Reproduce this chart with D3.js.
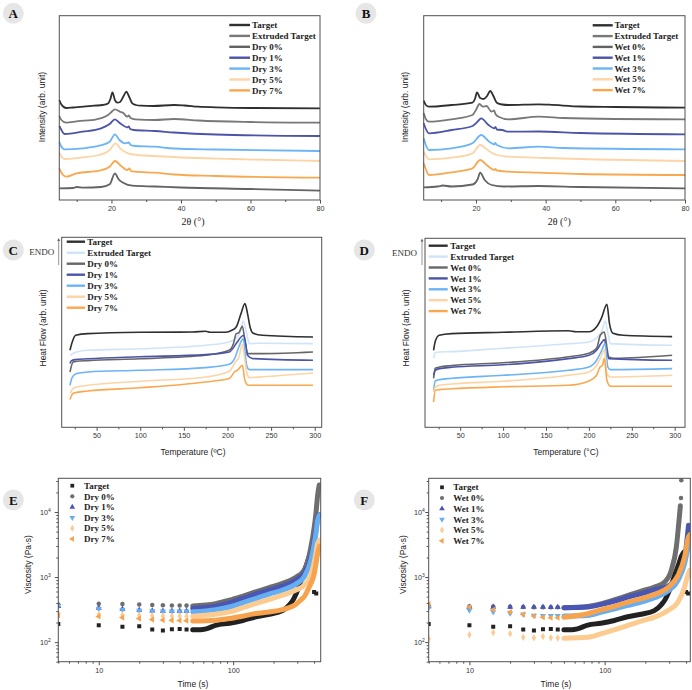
<!DOCTYPE html>
<html>
<head>
<meta charset="utf-8">
<script src="https://cdn.jsdelivr.net/npm/d3@7"></script>
<style>
  body { margin: 0; background: #fff; }
  svg { display: block; }
</style>
</head>
<body>
<svg id="fig" width="692" height="690"></svg>
<script>
// ---------- data ----------

// XRD, panels A and B  [2theta, intensity (arb.)]
const xrdNamesDry = ["Target", "Extruded Target", "Dry 0%", "Dry 1%", "Dry 3%", "Dry 5%", "Dry 7%"];
const xrdNamesWet = ["Target", "Extruded Target", "Wet 0%", "Wet 1%", "Wet 3%", "Wet 5%", "Wet 7%"];
const xrdMajor = [20, 40, 60, 80];
const xrdMinor = [10, 30, 50, 70];

const xrdTargetA = [[5,100],[5.6,95.5],[7,92],[9,92.5],[12,93.3],[15,94.3],[17.5,95],[19,96.5],[19.7,101],[20.3,107.7],[21,100],[21.7,97.3],[22.5,98],[23.5,104],[24.3,108.3],[25,104],[26,96.7],[27,95],[28.5,94.3],[32,94],[38,95],[41,94.5],[45,93.3],[50,92.7],[60,92],[80,91.7]];
const xrdExtrudedA = [[5,84],[5.6,80],[7,77.3],[10,78.7],[15.7,80.7],[19,85],[20,88],[21,90.7],[22.5,88.3],[23.5,86.7],[24.5,83.3],[25,84.5],[25.5,82],[26.8,80.7],[32.5,80],[38,81],[45,79.5],[60,78],[80,77.3]];
const xrdDry0A = [[5,11.7],[9,12],[10,13],[12,12.3],[17,13],[19.5,15.7],[21,26.7],[22,21],[23.5,17],[26,14.3],[32.5,13.5],[40,12.5],[60,11],[80,9.3]];
const xrdDry1A = [[5,74],[5.5,70.7],[6.5,66],[11.7,68.3],[17,71.7],[19.5,76],[21,80.7],[22.5,76.7],[24.5,72.7],[25,73.5],[25.4,71],[26.5,70],[32.5,69],[38,67.5],[50,65.5],[80,64]];
const xrdDry3A = [[5,58],[5.5,54],[6.5,50.7],[11.7,51.7],[16.5,54.3],[19.5,58.3],[21,65.7],[22.3,60],[24,56.7],[25,57.5],[25.5,55],[26.8,54],[32.5,53.3],[38,51.5],[50,50.5],[80,49]];
const xrdDry5A = [[5,47.3],[5.5,44],[6.5,41],[11.7,42.7],[16.5,45],[19.5,50],[21.2,56.7],[22.5,51.7],[24.8,46.7],[27.5,45],[32.5,44],[40,42.5],[55,41],[80,39]];
const xrdDry7A = [[5,31.7],[5.5,28],[7,23.3],[10,26.7],[16.5,29.3],[19.5,33.3],[21,39],[22.8,34],[24.5,30],[25.2,31.5],[25.6,29],[26.8,28.3],[32.5,27.3],[38,25.5],[50,24],[80,22.3]];

const xrdTargetB = [[5,99.3],[5.6,95],[6.5,93.3],[13,95],[19,97.3],[19.7,101],[20.3,107.7],[21.2,102],[22.2,101],[23.2,104],[24.1,109],[25,104],[26,97.3],[27.5,95.5],[29.4,95],[38,95.7],[41,95.3],[50,93.5],[60,93],[80,92.3]];
const xrdExtrudedB = [[5,87],[5.6,81],[6.5,78.3],[13,80.7],[19,85],[20,90],[21,96],[22,93.3],[23,94],[24.5,88.3],[25.2,89.5],[25.6,86],[26.5,83.3],[29.4,80.7],[38,83.3],[45,82],[60,81],[80,80.7]];
const xrdWet0B = [[5,12.7],[9,13.5],[10.5,14.5],[13,13.5],[19,15.5],[20.5,21],[21.2,27.3],[22.5,20],[24.5,15],[28,13.5],[38,14],[50,13],[80,11.7]];
const xrdWet1B = [[5,76.7],[5.5,72],[6.5,66.7],[13,70],[19,74],[20.5,78.5],[21.5,81.7],[23.6,75],[25.3,71.7],[25.6,73],[26,70.5],[27.5,70],[29.4,68.3],[38,68.5],[50,67],[80,65.7]];
const xrdWet3B = [[5,61.7],[5.5,56],[6.5,50],[13,51.7],[19,56.7],[21.5,65],[23.8,58.3],[25.3,55.5],[25.5,57],[26,55],[29.4,51.7],[38,53.3],[45,52],[80,50.7]];
const xrdWet5B = [[5,48.3],[5.5,45],[6.5,40.7],[13,42.3],[19,46.7],[21.2,55],[23.6,49.3],[26,45],[29.4,43.3],[40,42],[55,40.5],[80,39]];
const xrdWet7B = [[5,36.7],[5.5,32],[6.5,25],[13,27.7],[19,31.7],[21.2,40],[23.4,34],[25.3,30],[25.6,31],[26,29.5],[29.4,28.3],[38,27.3],[50,26],[80,25]];

// DSC, panels C and D  [temperature degC, heat flow (arb.)]
const dscMajor = [50, 100, 150, 200, 250, 300];
const dscMinor = [25, 75, 125, 175, 225, 275];

const dscTargetC = [[19.5,77],[22,85],[26,92],[40,93.7],[100,95],[160,95.3],[175,96],[180,95],[198,95],[205,97],[210,100.3],[215.5,113.7],[220,123.7],[223,113.7],[226,100],[229,94.3],[240,92],[298,90.3]];
const dscExtrudedC = [[20,72],[22,73.5],[27,75.3],[40,77],[100,78.5],[175,82],[202,85.3],[211,90.3],[215,96],[218,106.3],[222,93.7],[225,83.7],[235,84],[298,83.7]];
const dscDry0C = [[19.5,55.3],[23,65.3],[27,66],[40,66.7],[100,68.5],[175,72],[202,77],[207,84],[210,93.7],[213,94.5],[217,101],[220,87],[223,73.7],[240,73.7],[298,75.3]];
const dscDry1C = [[19.5,63.7],[21,66.5],[25,67.7],[40,68.5],[100,70.5],[175,72.7],[202,75.3],[210,83.7],[215.5,90.3],[218.5,92],[221,83],[223,72],[229,68.7],[298,67]];
const dscDry3C = [[19.5,42],[22,50],[27,53.7],[40,55.3],[100,57],[175,59.7],[202,63],[209,70.3],[213,80.3],[218,88.7],[222,62],[225,57.7],[298,57.7]];
const dscDry5C = [[20,33.7],[22,37.7],[26,40],[40,42],[100,46],[175,50.3],[202,56],[209,65.3],[213,70],[217,83],[220,67],[222,55.3],[225,49.7],[240,50.5],[298,54.3]];
const dscDry7C = [[19.5,27.7],[21,31.3],[24,34.3],[40,36.3],[100,39.5],[175,45.3],[202,48.7],[208,55.3],[212,57.5],[217,62],[220,47],[224,42],[298,42]];

const dscTargetD = [[19,77],[21,86],[25.5,92],[40,93.7],[100,95],[176,96.5],[185,95.5],[200,95.5],[209,100.5],[215,110],[221,123],[224,103.7],[228,94],[240,92],[297,90.7]];
const dscExtrudedD = [[19,69],[21,74.5],[26,75.3],[40,75.7],[100,79],[176,83.5],[200,85.3],[210,90.3],[215,96],[219,106.3],[222,95],[225,83.7],[297,82]];
const dscWet0D = [[19,49],[21,59],[26,60.3],[40,61.7],[100,64.5],[176,70.5],[200,74],[209,79],[213.4,92.3],[218,95.3],[221,80],[223,70.3],[230,69],[297,72]];
const dscWet1D = [[19,52],[21,57],[26,58.7],[40,60],[100,62.5],[176,68.7],[200,72],[209,77],[214,83.7],[218,87.7],[221,76],[223,68.7],[297,67]];
const dscWet3D = [[19,37],[21,46.3],[26,47.7],[40,49],[100,52],[176,57],[200,60.3],[209,67],[215,77],[219,83.7],[222,60.3],[225,57.7],[297,58.7]];
const dscWet5D = [[19,35.3],[21,40.3],[26,42],[40,43.3],[100,46],[176,52],[200,55.3],[209,62],[214,70.3],[218,77.7],[221,53.7],[225,50.3],[297,52]];
const dscWet7D = [[19,25.3],[21,37],[26,37.7],[40,38.5],[100,40.5],[176,42],[200,46.3],[209,52],[213,60.3],[215.5,61.5],[218,68.7],[221,47],[225,41],[297,41]];

// Viscosity, panels E and F  [time s, viscosity Pa.s]
// "Pts" = separately visible markers, "Band" = the dense run of markers after 50 s
const viscNamesDry = ["Target", "Dry 0%", "Dry 1%", "Dry 3%", "Dry 5%", "Dry 7%"];
const viscNamesWet = ["Target", "Wet 0%", "Wet 1%", "Wet 3%", "Wet 5%", "Wet 7%"];
const viscXMajor = [10, 100];
const viscXMinor = [5, 6, 7, 8, 9, 20, 30, 40, 50, 60, 70, 80, 90, 200, 300, 400];
const viscYMajor = [100, 1000, 10000];
const viscYMinor = [50, 60, 70, 80, 90, 200, 300, 400, 500, 600, 700, 800, 900,
  2000, 3000, 4000, 5000, 6000, 7000, 8000, 9000, 20000, 30000];

const targetPts = [[5,190],[10,181],[15,173],[20,176],[25,156],[30,151],[35,158],[40,159],[45,157],[400,590],[415,560]];
const targetBand = [[50,155],[57,155],[63,160],[75,183],[94,195],[118,215],[148,245],[186,268],[233,305],[262,375],[280,450],[294,555],[312,760],[329,1060],[350,1500],[370,2100],[384,2400]];

const dry0Pts = [[5,380],[10,390],[15,385],[20,380],[25,372],[30,368],[35,366],[40,365],[45,364]];
const dry0Band = [[50,360],[74,390],[94,440],[117,505],[147,590],[185,690],[233,800],[293,990],[338,1280],[360,1800],[379,2900],[400,5600],[413,9600],[425,18000],[437,26000]];
const dry1Pts = [[5,355],[10,335],[15,322],[20,312],[25,303],[30,302],[35,302],[40,302],[45,302]];
const dry1Band = [[50,330],[74,356],[94,400],[117,465],[147,545],[185,628],[233,725],[293,900],[338,1140],[379,2060],[400,3600],[413,5300],[425,8000],[440,9100]];
const dry3Pts = [[5,362],[10,325],[15,315],[20,305],[25,300],[30,298],[35,297],[40,297],[45,297]];
const dry3Band = [[50,292],[74,316],[94,347],[117,400],[147,468],[185,546],[233,630],[293,780],[338,1010],[379,1830],[413,4700],[425,7500],[440,9000]];
const dry5Pts = [[5,272],[10,268],[15,262],[20,256],[25,254],[30,252],[35,251],[40,251],[45,250]];
const dry5Band = [[50,250],[74,268],[94,291],[117,335],[147,392],[185,452],[233,527],[293,630],[338,752],[379,1074],[413,2320],[425,3300],[440,3700]];
const dry7Pts = [[5,258],[10,248],[15,238],[20,230],[25,222],[30,218],[35,216],[40,215],[45,214]];
const dry7Band = [[50,211],[74,217],[94,230],[117,250],[147,275],[185,291],[233,316],[293,382],[320,450],[338,500],[360,640],[379,800],[400,1100],[413,1600],[425,2300],[440,3000]];

const wet0Pts = [[5,360],[10,354],[15,352],[20,350],[25,346],[30,345],[35,345],[40,345],[45,345],[367,16400],[369,30700]];
const wet0Band = [[50,338],[75,354],[95,390],[119,449],[149,523],[187,609],[234,702],[278,838],[311,1268],[339,2890],[355,7500],[363,12500]];
const wet1Pts = [[5,352],[10,346],[15,346],[20,346],[25,346],[30,346],[35,346],[40,345],[45,345]];
const wet1Band = [[50,338],[75,346],[95,380],[119,427],[149,492],[187,555],[234,640],[294,727],[349,1000],[390,1806],[405,3500],[417,6250]];
const wet3Pts = [[5,340],[10,310],[15,290],[20,277],[25,268],[30,257],[35,255],[40,254],[45,254]];
const wet3Band = [[50,252],[75,257],[95,290],[119,326],[149,367],[187,413],[234,482],[294,609],[349,889],[390,1606],[417,3260],[426,4300]];
const wet5Pts = [[5,113],[10,130],[15,140],[20,135],[25,119],[30,117],[35,122],[40,117],[45,116]];
const wet5Band = [[50,115],[75,119],[95,135],[119,155],[149,181],[187,211],[234,242],[294,307],[349,413],[390,702],[408,1000],[425,1268]];
const wet7Pts = [[5,380],[10,346],[15,315],[20,290],[25,267],[30,252],[35,242],[40,237],[45,237]];
const wet7Band = [[50,242],[75,273],[95,315],[119,354],[149,413],[187,465],[234,542],[294,687],[349,1062],[390,2030],[417,4130],[428,4500]];

// ---------- styling ----------
const serif = "'Liberation Serif', 'Times New Roman', serif";
const sans = "'Liberation Sans', Arial, sans-serif";
const axisColour = "#505050";
const xrdColours = ["#2f2f2f", "#787878", "#636363", "#4c54a8", "#6cb4f6", "#fdd4a6", "#f9a84f"];
const dscColours = ["#2f2f2f", "#cfe4f9", "#676767", "#4c54a8", "#6cb4f6", "#fdd4a6", "#f9a84f"];
const viscColours = ["#222222", "#6e6e6e", "#4a56b4", "#66aef2", "#fccb90", "#f7a24c"];
const viscShapes = [d3.symbolSquare, d3.symbolCircle, d3.symbolTriangle, d3.symbolTriangle, d3.symbolDiamond, d3.symbolTriangle];
const viscRotate = [0, 0, 0, 180, 0, -90];

const svg = d3.select("#fig");

function badge(cx, cy, letter) {
  svg.append("circle").attr("cx", cx).attr("cy", cy).attr("r", 10.5).attr("fill", "#e6e6e6");
  svg.append("text").attr("x", cx).attr("y", cy).attr("dy", "0.35em")
    .attr("text-anchor", "middle").attr("font-family", serif).attr("font-weight", "bold")
    .attr("font-size", 13).attr("fill", "#111").text(letter);
}

function frame(g, b) {
  g.append("rect").attr("x", b.left).attr("y", b.top)
    .attr("width", b.right - b.left).attr("height", b.bottom - b.top)
    .attr("fill", "none").attr("stroke", axisColour).attr("stroke-width", 1);
}

function bottomTicks(g, b, x, major, minor) {
  g.append("g").attr("transform", `translate(0,${b.bottom})`)
    .call(d3.axisBottom(x).tickValues(minor).tickSize(2).tickFormat(""))
    .call((a) => a.select(".domain").remove())
    .call((a) => a.selectAll("line").attr("stroke", axisColour));
  g.append("g").attr("transform", `translate(0,${b.bottom})`)
    .call(d3.axisBottom(x).tickValues(major).tickSize(3.5).tickPadding(2.5).tickFormat(d3.format("d")))
    .call((a) => a.select(".domain").remove())
    .call((a) => a.selectAll("line").attr("stroke", axisColour))
    .call((a) => a.selectAll("text").attr("fill", "#333").attr("font-family", sans).attr("font-size", 7.2));
}

function axisLabels(g, o) {
  g.append("text").attr("x", o.xl[0]).attr("y", o.xl[1]).attr("dy", "0.35em")
    .attr("text-anchor", "middle").attr("font-family", o.xlFont || sans)
    .attr("font-size", o.xlSize || 8.5).attr("fill", "#222").text(o.xlabel);
  g.append("text").attr("transform", `translate(${o.yl[0]},${o.yl[1]}) rotate(-90)`)
    .attr("dy", "0.35em").attr("text-anchor", "middle").attr("font-family", sans)
    .attr("font-size", 8.5).attr("fill", "#222").text(o.ylabel);
}

// line panels (XRD and DSC)
function drawLinePanel(o) {
  const b = o.box;
  const g = svg.append("g");
  const x = d3.scaleLinear().domain(o.xDomain).range([b.left, b.right]);
  // arbitrary units: one unit per pixel of frame height
  const y = d3.scaleLinear().domain([0, b.bottom - b.top]).range([b.bottom, b.top]);
  const line = d3.line().x((d) => x(d[0])).y((d) => y(d[1])).curve(d3.curveMonotoneX);

  o.series.forEach((s, i) => {
    g.append("path").datum(s).attr("d", line).attr("fill", "none")
      .attr("stroke", o.colours[i]).attr("stroke-width", o.lw)
      .attr("stroke-linejoin", "round");
  });

  frame(g, b);
  bottomTicks(g, b, x, o.major, o.minor);
  axisLabels(g, o);

  const L = o.legend;
  o.names.forEach((n, i) => {
    const yy = L.y0 + i * L.dy;
    g.append("line").attr("x1", L.x0).attr("x2", L.x1).attr("y1", yy).attr("y2", yy)
      .attr("stroke", o.colours[i]).attr("stroke-width", 2.4);
    g.append("text").attr("x", L.tx).attr("y", yy).attr("dy", "0.35em")
      .attr("font-family", serif).attr("font-weight", "bold").attr("font-size", 9)
      .attr("fill", "#222").text(n);
  });

  if (o.endo) {
    const e = o.endo;
    g.append("text").attr("x", e.tx).attr("y", e.ty).attr("dy", "0.35em")
      .attr("font-family", serif).attr("font-size", 9).attr("fill", "#333").text("ENDO");
    g.append("line").attr("x1", e.ax).attr("x2", e.ax).attr("y1", e.y1).attr("y2", e.y0 + 2)
      .attr("stroke", "#888").attr("stroke-width", 0.9);
    g.append("path").attr("d", `M${e.ax - 1.5},${e.y0 + 3} L${e.ax},${e.y0} L${e.ax + 1.5},${e.y0 + 3} Z`)
      .attr("fill", "#666");
  }
}

// scatter panels (viscosity)
function drawViscPanel(o) {
  const b = o.box;
  const g = svg.append("g");
  const x = d3.scaleLog().domain(o.xDomain).range([b.left, b.right]);
  const y = d3.scaleLog().domain([50, 33000]).range([b.bottom, b.top]);
  const clipId = "clip" + o.id;
  svg.append("clipPath").attr("id", clipId).append("rect")
    .attr("x", b.left).attr("y", b.top).attr("width", b.right - b.left).attr("height", b.bottom - b.top);
  const plot = g.append("g").attr("clip-path", `url(#${clipId})`);
  const band = d3.line().x((d) => x(d[0])).y((d) => y(d[1])).curve(d3.curveMonotoneX);

  o.bands.forEach((s, i) => {
    plot.append("path").datum(s).attr("d", band).attr("fill", "none")
      .attr("stroke", o.colours[i]).attr("stroke-width", 5)
      .attr("stroke-linecap", "round").attr("stroke-linejoin", "round");
    plot.selectAll(null).data(o.points[i]).join("path")
      .attr("d", d3.symbol().type(viscShapes[i]).size(16))
      .attr("transform", (d) => `translate(${x(d[0])},${y(d[1])}) rotate(${viscRotate[i]})`)
      .attr("fill", o.colours[i]);
  });

  frame(g, b);
  bottomTicks(g, b, x, viscXMajor, viscXMinor);

  g.append("g").attr("transform", `translate(${b.left},0)`)
    .call(d3.axisLeft(y).tickValues(viscYMinor).tickSize(2).tickFormat(""))
    .call((a) => a.select(".domain").remove())
    .call((a) => a.selectAll("line").attr("stroke", axisColour));
  g.append("g").attr("transform", `translate(${b.left},0)`)
    .call(d3.axisLeft(y).tickValues(viscYMajor).tickSize(3.5).tickFormat(""))
    .call((a) => a.select(".domain").remove())
    .call((a) => a.selectAll("line").attr("stroke", axisColour));
  viscYMajor.forEach((v) => {
    const t = g.append("text").attr("x", b.left - o.ytickGap).attr("y", y(v)).attr("dy", "0.35em")
      .attr("text-anchor", "end").attr("font-family", sans).attr("font-size", 7.2).attr("fill", "#333");
    t.append("tspan").text("10");
    t.append("tspan").attr("dy", "-0.45em").attr("font-size", 5).text(Math.round(Math.log10(v)));
  });

  axisLabels(g, o);

  const L = o.legend;
  o.names.forEach((n, i) => {
    const yy = L.y0 + i * L.dy;
    g.append("path").attr("d", d3.symbol().type(viscShapes[i]).size(14))
      .attr("transform", `translate(${L.mx},${yy}) rotate(${viscRotate[i]})`)
      .attr("fill", o.colours[i]);
    g.append("text").attr("x", L.tx).attr("y", yy).attr("dy", "0.35em")
      .attr("font-family", serif).attr("font-weight", "bold").attr("font-size", 9)
      .attr("fill", "#222").text(n);
  });
}

// ---------- panels ----------
drawLinePanel({
  box: { left: 59.3, top: 15.7, right: 320, bottom: 200 },
  xDomain: [5, 80], major: xrdMajor, minor: xrdMinor, lw: 1.8,
  series: [xrdTargetA, xrdExtrudedA, xrdDry0A, xrdDry1A, xrdDry3A, xrdDry5A, xrdDry7A],
  colours: xrdColours, names: xrdNamesDry,
  xlabel: "2θ (°)", xlFont: serif, xlSize: 10, xl: [193, 221.7],
  ylabel: "Intensity (arb. unit)", yl: [41.7, 107],
  legend: { x0: 229.3, x1: 250, tx: 252, y0: 25, dy: 10.9 },
});
drawLinePanel({
  box: { left: 423.7, top: 15.7, right: 685, bottom: 200 },
  xDomain: [5, 80], major: xrdMajor, minor: xrdMinor, lw: 1.8,
  series: [xrdTargetB, xrdExtrudedB, xrdWet0B, xrdWet1B, xrdWet3B, xrdWet5B, xrdWet7B],
  colours: xrdColours, names: xrdNamesWet,
  xlabel: "2θ (°)", xlFont: serif, xlSize: 10, xl: [559.3, 221.7],
  ylabel: "Intensity (arb. unit)", yl: [405.3, 107],
  legend: { x0: 592.7, x1: 612.7, tx: 614.5, y0: 25.3, dy: 10.8 },
});

drawLinePanel({
  box: { left: 61.7, top: 237.3, right: 321.7, bottom: 427.3 },
  xDomain: [10, 308], major: dscMajor, minor: dscMinor, lw: 1.6,
  series: [dscTargetC, dscExtrudedC, dscDry0C, dscDry1C, dscDry3C, dscDry5C, dscDry7C],
  colours: dscColours, names: xrdNamesDry,
  xlabel: "Temperature (ºC)", xl: [193, 451.7],
  ylabel: "Heat Flow (arb. unit)", yl: [43.3, 328],
  legend: { x0: 66.7, x1: 85, tx: 87.3, y0: 241.7, dy: 11 },
  endo: { tx: 29.3, ty: 251.7, ax: 58.7, y0: 238, y1: 265 },
});
drawLinePanel({
  box: { left: 425, top: 238.3, right: 685, bottom: 427.3 },
  xDomain: [9, 312], major: dscMajor, minor: dscMinor, lw: 1.6,
  series: [dscTargetD, dscExtrudedD, dscWet0D, dscWet1D, dscWet3D, dscWet5D, dscWet7D],
  colours: dscColours, names: xrdNamesWet,
  xlabel: "Temperature (°C)", xl: [566, 451.7],
  ylabel: "Heat Flow (arb. unit)", yl: [406, 328],
  legend: { x0: 428.7, x1: 447.7, tx: 450.3, y0: 245.7, dy: 10.9 },
  endo: { tx: 392, ty: 253.3, ax: 422, y0: 238.5, y1: 265 },
});

drawViscPanel({
  id: "E", box: { left: 58.3, top: 478.3, right: 320.7, bottom: 661.7 },
  xDomain: [5, 448], ytickGap: 7.5,
  bands: [targetBand, dry0Band, dry1Band, dry3Band, dry5Band, dry7Band],
  points: [targetPts, dry0Pts, dry1Pts, dry3Pts, dry5Pts, dry7Pts],
  colours: viscColours, names: viscNamesDry,
  xlabel: "Time (s)", xl: [193, 684.3],
  ylabel: "Viscosity (Pa·s)", yl: [28.3, 564.5],
  legend: { mx: 72.3, tx: 84, y0: 485.7, dy: 10.65 },
});
drawViscPanel({
  id: "F", box: { left: 428.7, top: 478.3, right: 690.3, bottom: 661.7 },
  xDomain: [5, 430], ytickGap: 4,
  bands: [targetBand, wet0Band, wet1Band, wet3Band, wet5Band, wet7Band],
  points: [targetPts, wet0Pts, wet1Pts, wet3Pts, wet5Pts, wet7Pts],
  colours: viscColours, names: viscNamesWet,
  xlabel: "Time (s)", xl: [556, 684.3],
  ylabel: "Viscosity (Pa·s)", yl: [402.7, 564.5],
  legend: { mx: 442, tx: 453.3, y0: 487.3, dy: 10.7 },
});

badge(13.3, 13.3, "A");
badge(366, 13.3, "B");
badge(13.3, 250, "C");
badge(364.3, 250, "D");
badge(13.3, 500, "E");
badge(364.3, 500, "F");
</script>
</body>
</html>
